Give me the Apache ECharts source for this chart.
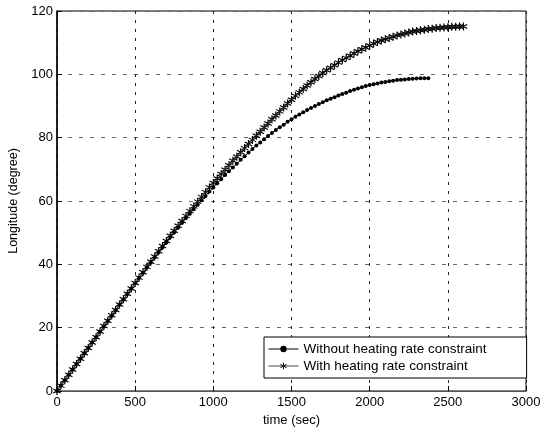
<!DOCTYPE html>
<html>
<head>
<meta charset="utf-8">
<script src="https://cdn.jsdelivr.net/npm/echarts@6/dist/echarts.min.js"></script>
<style>
  html, body { margin: 0; padding: 0; background: #fff; }
  #chart { width: 550px; height: 432px; }
</style>
</head>
<body>
<div id="chart"></div>
<script>
// Longitude vs time, with / without heating rate constraint
var seriesNames = ['Without heating rate constraint', 'With heating rate constraint'];

// sample times (sec), shared by both runs
var timeSec = [0, 25, 50, 75, 100, 125, 150, 175, 200, 225, 250, 275, 300, 325, 350, 375, 400, 425, 450, 475,
  500, 525, 550, 575, 600, 625, 650, 675, 700, 725, 750, 775, 800, 825, 850, 875, 900, 925, 950, 975,
  1000, 1025, 1050, 1075, 1100, 1125, 1150, 1175, 1200, 1225, 1250, 1275, 1300, 1325, 1350, 1375, 1400, 1425, 1450, 1475,
  1500, 1525, 1550, 1575, 1600, 1625, 1650, 1675, 1700, 1725, 1750, 1775, 1800, 1825, 1850, 1875, 1900, 1925, 1950, 1975,
  2000, 2025, 2050, 2075, 2100, 2125, 2150, 2175, 2200, 2225, 2250, 2275, 2300, 2325, 2350, 2375, 2400, 2425, 2450, 2475,
  2500, 2525, 2550, 2575, 2600];

// longitude (degree)
var lonWithout = [0, 1.7, 3.4, 5.1, 6.8, 8.5, 10.2, 11.9, 13.6, 15.3, 17.0, 18.7, 20.4, 22.1, 23.8, 25.5, 27.2, 28.9, 30.6, 32.3,
  34.0, 35.7, 37.3, 39.0, 40.6, 42.2, 43.8, 45.4, 47.0, 48.6, 50.1, 51.6, 53.1, 54.6, 56.0, 57.4, 58.8, 60.2, 61.6, 63.0,
  64.3, 65.6, 66.9, 68.2, 69.4, 70.6, 71.8, 73.0, 74.1, 75.3, 76.4, 77.5, 78.5, 79.5, 80.5, 81.5, 82.4, 83.3, 84.1, 85.0,
  85.8, 86.6, 87.3, 88.0, 88.7, 89.4, 90.0, 90.6, 91.2, 91.8, 92.3, 92.8, 93.3, 93.8, 94.2, 94.7, 95.1, 95.5, 95.9, 96.3,
  96.6, 96.9, 97.1, 97.4, 97.6, 97.8, 98.0, 98.2, 98.3, 98.4, 98.5, 98.6, 98.7, 98.75, 98.8, 98.8];

var lonWith = [0, 1.7, 3.4, 5.1, 6.8, 8.5, 10.2, 11.9, 13.6, 15.3, 17.0, 18.8, 20.5, 22.2, 23.9, 25.6, 27.3, 29.0, 30.7, 32.4,
  34.1, 35.8, 37.5, 39.2, 40.8, 42.5, 44.1, 45.8, 47.4, 49.0, 50.6, 52.2, 53.7, 55.3, 56.8, 58.3, 59.8, 61.3, 62.8, 64.3,
  65.7, 67.1, 68.5, 69.9, 71.3, 72.7, 74.0, 75.4, 76.7, 78.0, 79.3, 80.6, 81.9, 83.2, 84.5, 85.8, 87.0, 88.3, 89.5, 90.8,
  92.0, 93.2, 94.3, 95.4, 96.5, 97.5, 98.5, 99.5, 100.4, 101.3, 102.1, 102.9, 103.7, 104.5, 105.2, 105.9, 106.6, 107.3, 107.9, 108.5,
  109.1, 109.7, 110.2, 110.7, 111.1, 111.5, 111.9, 112.3, 112.6, 112.9, 113.2, 113.5, 113.7, 113.9, 114.1, 114.3, 114.4, 114.6, 114.7, 114.8,
  114.9, 115.0, 115.0, 115.1, 115.1];

function pairs(ys) {
  return ys.map(function (y, i) { return [timeSec[i], y]; });
}

// asterisk marker: three bars
var starPath = 'path://M-0.7,-5L0.7,-5L0.7,5L-0.7,5Z' +
  'M-4.68,-1.89L-3.98,-3.11L4.68,1.89L3.98,3.11Z' +
  'M-4.68,1.89L-3.98,3.11L4.68,-1.89L3.98,-3.11Z';

var font = 'Liberation Sans';

var chart = echarts.init(document.getElementById('chart'));
chart.setOption({
  animation: false,
  backgroundColor: '#fff',
  textStyle: { fontFamily: font, color: '#000' },
  grid: {
    left: 57, right: 24, top: 11, bottom: 41,
    outerBoundsMode: 'none',
    containLabel: false,
    show: true, borderColor: '#000', borderWidth: 1
  },
  legend: {
    data: seriesNames,
    orient: 'vertical',
    left: 264, top: 337,
    backgroundColor: '#fff',
    borderColor: '#000', borderWidth: 1,
    padding: [5, 40, 5, 4],
    itemWidth: 30, itemHeight: 8, itemGap: 3,
    lineStyle: { width: 1 },
    textStyle: { fontFamily: font, fontSize: 13.5, color: '#000' }
  },
  xAxis: {
    type: 'value',
    min: 0, max: 3000, interval: 500,
    name: 'time (sec)',
    nameLocation: 'middle',
    nameGap: 18,
    nameTextStyle: { fontFamily: font, fontSize: 13, color: '#000' },
    axisLine: { show: true, lineStyle: { color: '#555', width: 1 } },
    axisTick: { show: true, inside: true, length: 5, lineStyle: { color: '#000' } },
    axisLabel: {
      fontFamily: font, fontSize: 13, color: '#000', margin: 5,
      formatter: function (v) { return String(v); }
    },
    splitLine: { show: true, lineStyle: { color: '#222', type: [3, 6], width: 1 } }
  },
  yAxis: {
    type: 'value',
    min: 0, max: 120, interval: 20,
    name: 'Longitude (degree)',
    nameLocation: 'middle',
    nameGap: 33,
    nameTextStyle: { fontFamily: font, fontSize: 12.5, color: '#000' },
    axisLine: { show: true, lineStyle: { color: '#000', width: 1.5 } },
    axisTick: { show: true, inside: true, length: 5, lineStyle: { color: '#000' } },
    axisLabel: { fontFamily: font, fontSize: 13, color: '#000', margin: 4 },
    splitLine: { show: true, lineStyle: { color: '#666', type: [4, 7], width: 1 } }
  },
  series: [
    {
      name: seriesNames[0],
      type: 'line',
      data: pairs(lonWithout),
      symbol: 'circle',
      symbolSize: 4,
      showAllSymbol: true,
      lineStyle: { color: '#000', width: 1 },
      itemStyle: { color: '#000' }
    },
    {
      name: seriesNames[1],
      type: 'line',
      data: pairs(lonWith),
      symbol: starPath,
      symbolSize: 8,
      showAllSymbol: true,
      lineStyle: { color: '#444', width: 1 },
      itemStyle: { color: '#000' }
    }
  ]
});
</script>
</body>
</html>
